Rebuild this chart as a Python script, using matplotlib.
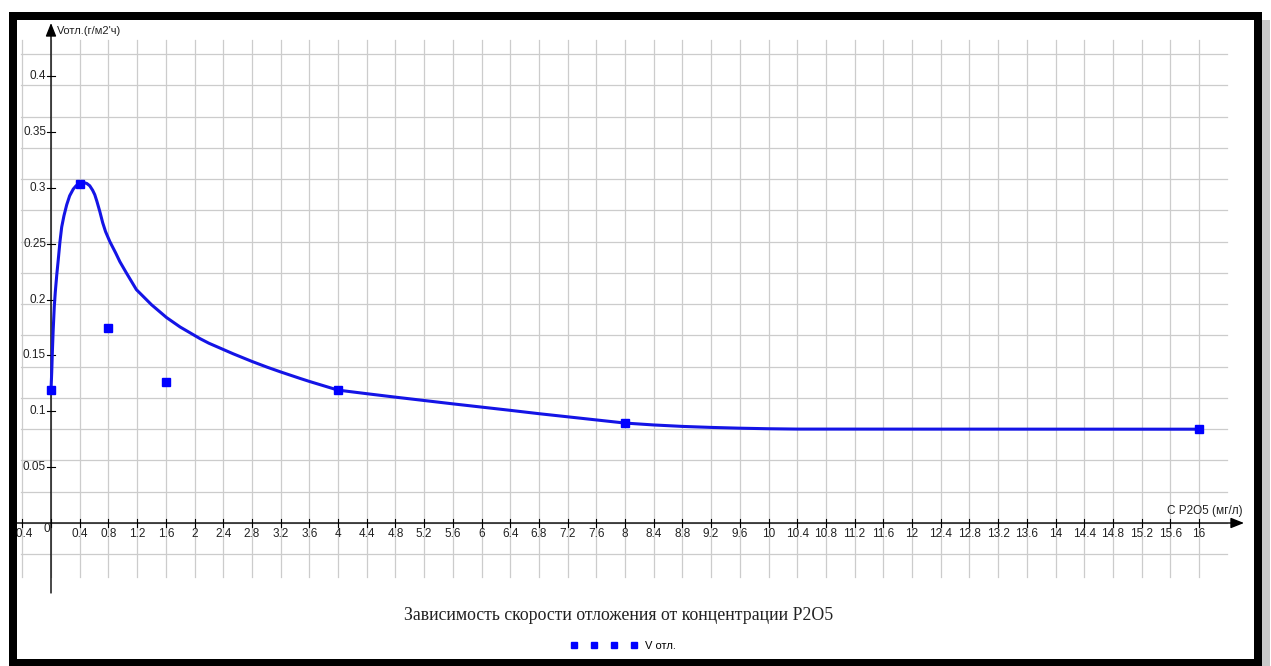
import numpy as np
import matplotlib.pyplot as plt
from matplotlib.lines import Line2D
from matplotlib.patches import Rectangle
from matplotlib.transforms import IdentityTransform

# measured points
c_p2o5 = [0, 0.4, 0.8, 1.6, 4, 8, 16]
v_otl = [0.119, 0.304, 0.175, 0.126, 0.119, 0.0895, 0.084]

# smoothed trend line
curve_c = [0, 0.01, 0.02, 0.03, 0.046, 0.06, 0.08, 0.10, 0.125, 0.149, 0.18, 0.219, 0.26, 0.31,
           0.35, 0.4, 0.45, 0.5, 0.54, 0.58, 0.61, 0.64, 0.68, 0.72, 0.76, 0.82, 0.9, 0.96,
           1.05, 1.19, 1.4, 1.61, 1.8, 2.08, 2.2, 2.54, 2.8, 3.01, 3.2, 3.47, 3.6, 4,
           4.4, 4.8, 5.2, 5.6, 6, 6.4, 6.8, 7.2, 7.6, 8, 8.4, 8.8, 9.2, 9.6, 10, 10.4, 16]
curve_v = [0.119, 0.135, 0.155, 0.172, 0.194, 0.207, 0.222, 0.235, 0.252, 0.265, 0.275, 0.285, 0.293, 0.299,
           0.302, 0.304, 0.305, 0.304, 0.302, 0.298, 0.294, 0.288, 0.279, 0.269, 0.261, 0.252, 0.242, 0.234,
           0.224, 0.209, 0.1955, 0.184, 0.1755, 0.165, 0.161, 0.1515, 0.1447, 0.1396, 0.1353, 0.1295, 0.1268, 0.119,
           0.1158, 0.1127, 0.1097, 0.1067, 0.1038, 0.1009, 0.0979, 0.0951, 0.0923, 0.0895, 0.0878, 0.0865,
           0.0856, 0.0849, 0.0844, 0.0841, 0.084]

x_ticks = np.round(np.arange(-0.4, 16.01, 0.4), 1)
y_ticks = np.round(np.arange(0.05, 0.401, 0.05), 2)

title = "Зависимость скорости отложения от концентрации P2O5"
y_name = "Vотл.(г/м2'ч)"
x_name = "C P2O5 (мг/л)"
series_name = "V отл."

W, H = 1271, 666
# pixel <-> data mapping of the plot
X0, SX = 51, 71.75
Y0, SY = 523, 1116.7
def px_x(p):
    return (p - X0) / SX
def px_y(p):
    return (Y0 - p) / SY

fig = plt.figure(figsize=(W / 100, H / 100), dpi=100)
ax = fig.add_axes([0, 0, 1, 1])
ax.set_xlim(px_x(0), px_x(W))
ax.set_ylim(px_y(H), px_y(0))
ax.axis('off')

grid_c = '#cccccc'
for gx in x_ticks:
    ax.plot([gx, gx], [px_y(577), px_y(40)], color=grid_c, lw=0.9, zorder=1)
for k in range(-1, 16):
    ax.plot([px_x(21), px_x(1227)], [k * 0.028, k * 0.028], color=grid_c, lw=0.9, zorder=1)

arrow = dict(arrowstyle='-|>,head_length=0.8,head_width=0.32', color='black', lw=1,
             shrinkA=0, shrinkB=0)
ax.annotate('', xy=(px_x(1244), 0), xytext=(px_x(17), 0), arrowprops=arrow, zorder=2)
ax.annotate('', xy=(0, px_y(23)), xytext=(0, px_y(593)), arrowprops=arrow, zorder=2)

tf = dict(family='Liberation Sans', color='#222222')
for tx in x_ticks:
    ax.plot([tx, tx], [px_y(527), px_y(519)], color='black', lw=0.8, zorder=2)
    if tx != 0:
        ax.text(tx, px_y(534), f"{tx:g}", ha='center', va='center', fontsize=8.5, **tf)
for ty in y_ticks:
    ax.plot([px_x(47), px_x(55)], [ty, ty], color='black', lw=0.8, zorder=2)
    ax.text(px_x(46), ty, f"{ty:g}", ha='right', va='center', fontsize=8.5, **tf)
ax.text(px_x(47), px_y(529), '0', ha='center', va='center', fontsize=8.5, **tf)

ax.text(px_x(57), px_y(31), y_name, ha='left', va='center', fontsize=8, **tf)
ax.text(px_x(1243), px_y(511), x_name, ha='right', va='center', fontsize=8.5, **tf)

ax.plot(curve_c, curve_v, color='#1414e6', lw=2.2, zorder=3,
        solid_capstyle='round', solid_joinstyle='round')
ax.plot(c_p2o5, v_otl, 's', color='#0000ff', markersize=6, zorder=4)

fig.text(619 / W, (H - 615) / H, title, ha='center', va='center',
         family='Liberation Serif', fontsize=12.8, color='#222222')

handle = Line2D([], [], color='#0000ff', marker='s', ls='none', markersize=5)
fig.legend([handle], [series_name], loc='center', bbox_to_anchor=(623 / W, 20 / H),
           numpoints=4, handlelength=6.0, handletextpad=0.7, frameon=False,
           prop=dict(family='Liberation Sans', size=8))

# black frame around the picture
fig.add_artist(Rectangle((1262, 0), 8, H - 20, transform=IdentityTransform(),
                         facecolor='#c8c8c8', edgecolor='none', zorder=9))
fig.add_artist(Rectangle((13, 3.5), 1245, 646.5, transform=IdentityTransform(),
                         fill=False, edgecolor='black', lw=5.76, zorder=10))

fig.savefig('out.png', dpi=100)
